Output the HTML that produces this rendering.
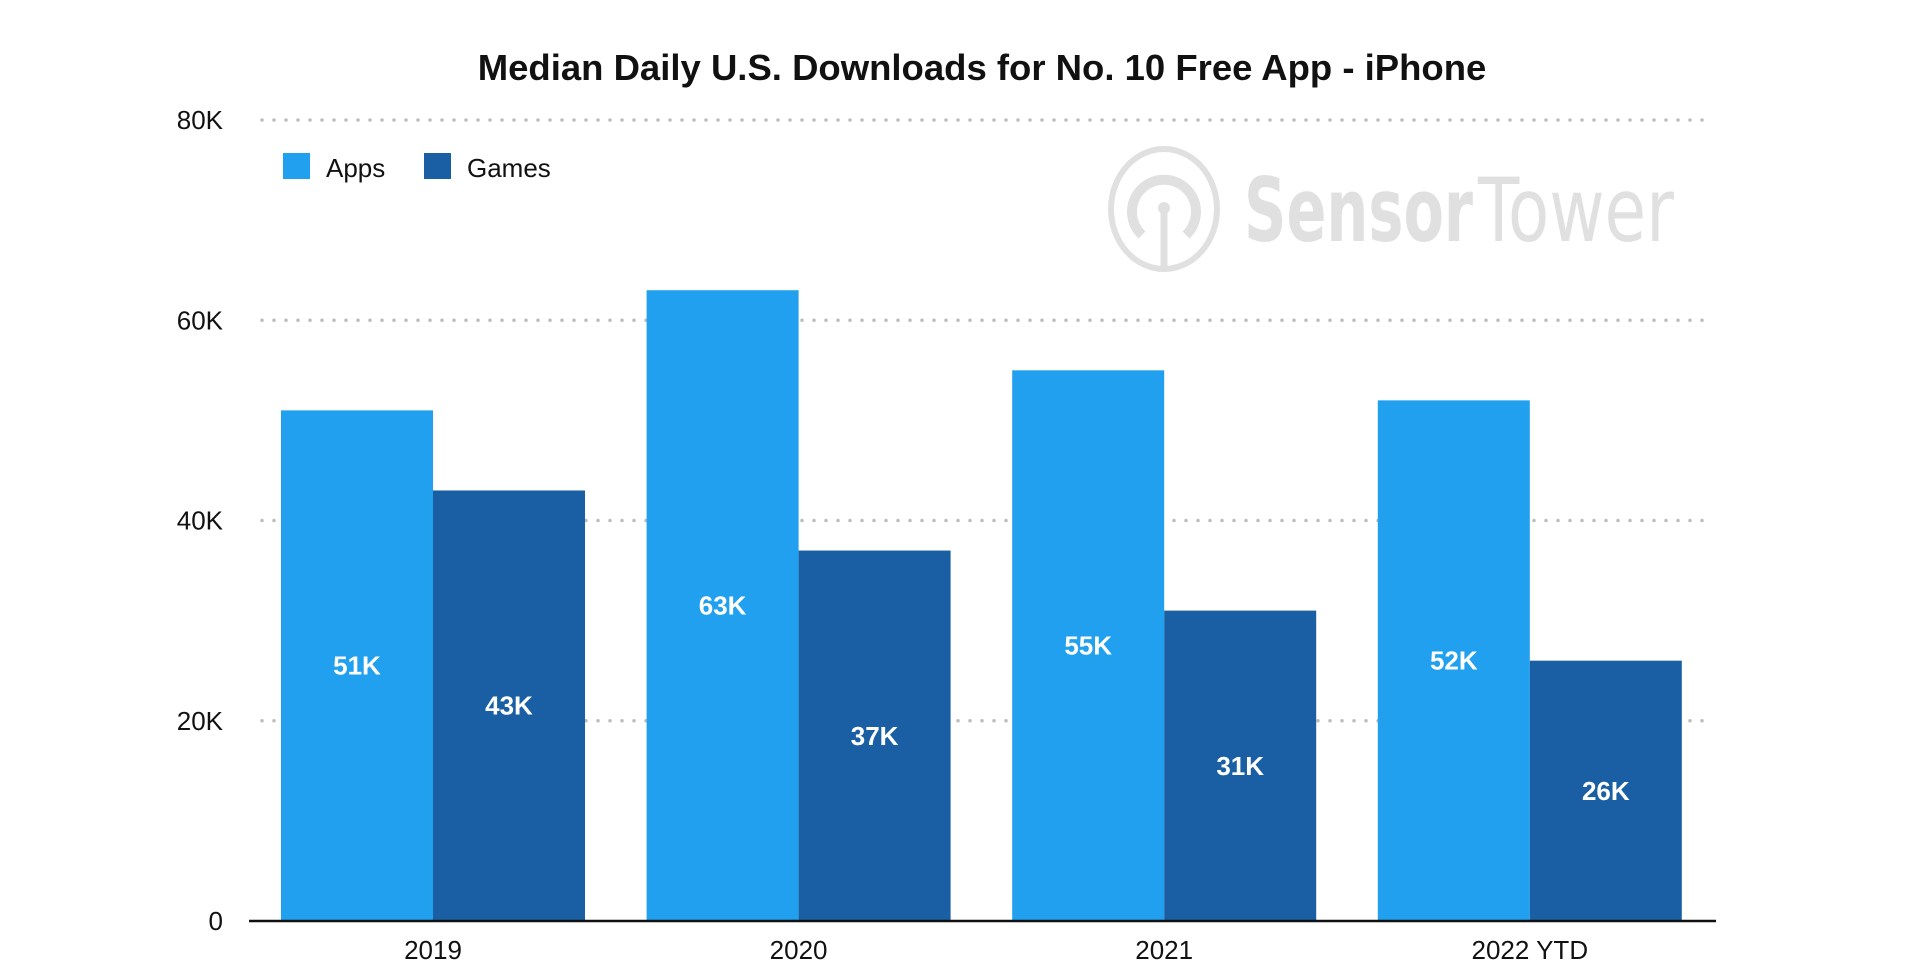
<!DOCTYPE html>
<html><head><meta charset="utf-8"><style>
html,body{margin:0;padding:0;background:#fff;}
svg{display:block;font-family:"Liberation Sans",Arial,sans-serif;}
</style></head><body>
<svg id="chart" width="1918" height="976" viewBox="0 0 1918 976" xmlns="http://www.w3.org/2000/svg">
<text x="982" y="80" text-anchor="middle" font-size="36.5" font-weight="bold" fill="#111">Median Daily U.S. Downloads for No. 10 Free App - iPhone</text>
<g fill="none" stroke="#e0e0e0" transform="translate(0,-12)">
<ellipse cx="1164" cy="221" rx="53" ry="60" stroke-width="6"/>
<path d="M1142 247 A32 32 0 1 1 1186 247" stroke-width="10"/>
<line x1="1164" y1="222" x2="1164" y2="278" stroke-width="7"/>
<circle cx="1164" cy="220" r="6" fill="#e0e0e0" stroke="none"/>
<text x="1244" y="253" font-size="88" font-weight="bold" fill="#e0e0e0" stroke="none" textLength="229" lengthAdjust="spacingAndGlyphs" font-family="DejaVu Sans, sans-serif">Sensor</text>
<text x="1478" y="253" font-size="88" fill="#e0e0e0" stroke="none" textLength="196" lengthAdjust="spacingAndGlyphs" font-family="DejaVu Sans, sans-serif">Tower</text>
</g>
<g id="grid"></g>
<g id="bars"></g>
<g id="labels"></g>
<line x1="249" y1="921" x2="1716" y2="921" stroke="#111" stroke-width="2.5"/>
<g>
<rect x="283" y="153" width="27" height="26" fill="#21a0ef"/>
<text x="326" y="177" font-size="26" fill="#111">Apps</text>
<rect x="424" y="153" width="27" height="26" fill="#1a5fa3"/>
<text x="467" y="177" font-size="26" fill="#111">Games</text>
</g>
</svg>
<script>
const categories = ["2019","2020","2021","2022 YTD"];
const appsValues = [51,63,55,52];
const gamesValues = [43,37,31,26];
const valueLabelsApps = ["51K","63K","55K","52K"];
const valueLabelsGames = ["43K","37K","31K","26K"];
const yTicks = [0,20,40,60,80];
const yTickLabels = ["0","20K","40K","60K","80K"];

const NS="http://www.w3.org/2000/svg";
const y0=921, yTop=120, yMax=80;
function yScale(v){return y0-(v/yMax)*(y0-yTop);}
const groupStart=281, groupPitch=365.6, barW=152;
function xGroup(i){return groupStart+i*groupPitch;}
function mk(tag,attrs,parent){const e=document.createElementNS(NS,tag);for(const k in attrs)e.setAttribute(k,attrs[k]);parent.appendChild(e);return e;}

const grid=document.getElementById('grid');
const bars=document.getElementById('bars');
const labels=document.getElementById('labels');

yTicks.forEach((t,i)=>{
  const y=yScale(t);
  if(t>0){
    const l=mk('line',{x1:262,y1:y,x2:1707,y2:y,stroke:'#bdbdbd','stroke-width':3.5,'stroke-dasharray':'0 12','stroke-linecap':'round'},grid);
    
    
  }
  const tx=mk('text',{x:223,y:y+9,'text-anchor':'end','font-size':26,fill:'#111'},labels);
  tx.textContent=yTickLabels[i];
  
  
});

categories.forEach((c,i)=>{
  const x=xGroup(i);
  const ya=yScale(appsValues[i]);
  const ra=mk('rect',{x:x,y:ya,width:barW,height:y0-ya,fill:'#21a0ef'},bars);
  
  
  const yg=yScale(gamesValues[i]);
  const rg=mk('rect',{x:x+barW,y:yg,width:barW,height:y0-yg,fill:'#1a5fa3'},bars);
  
  
  const la=mk('text',{x:x+barW/2,y:(ya+y0)/2+9,'text-anchor':'middle','font-size':26,'font-weight':'bold',fill:'#fff'},labels);
  la.textContent=valueLabelsApps[i];
  
  
  const lg=mk('text',{x:x+barW*1.5,y:(yg+y0)/2+9,'text-anchor':'middle','font-size':26,'font-weight':'bold',fill:'#fff'},labels);
  lg.textContent=valueLabelsGames[i];
  
  
  const xl=mk('text',{x:x+barW,y:959,'text-anchor':'middle','font-size':26,fill:'#111'},labels);
  xl.textContent=c;
  
  
});
</script>
</body></html>
